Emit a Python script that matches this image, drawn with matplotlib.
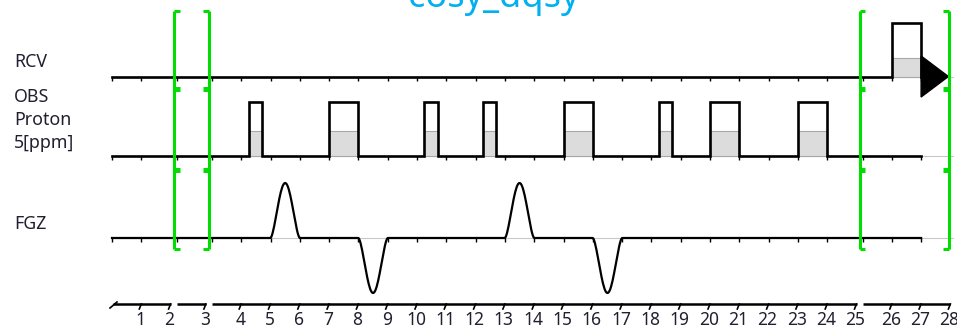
import numpy as np
import matplotlib.pyplot as plt
from matplotlib.patches import Polygon

plt.rcParams['font.family'] = ['Noto Sans', 'DejaVu Sans']

# ---- data (time in sequence units) ----
title = "cosy_dqsy"
rcv_label = ["RCV"]
obs_label = ["OBS", "Proton", "5[ppm]"]
fgz_label = ["FGZ"]

t_end = 28
chan_end = 27
breaks = [2, 3, 25]
tick_times = list(range(1, 29))

# OBS rf pulses
obs_start = [4.25, 7.0, 10.25, 12.25, 15.0, 18.25, 20.0, 23.0]
obs_stop = [4.7, 8.0, 10.7, 12.7, 16.0, 18.7, 21.0, 24.0]
obs_power = 0.46

# FGZ gradient pulses
grad_start = [5.0, 8.0, 13.0, 16.0]
grad_stop = [6.0, 9.0, 14.0, 17.0]
grad_amp = [1.0, -1.0, 1.0, -1.0]

# receiver gate and acquisition
rcv_start, rcv_stop = 26.0, 27.0
rcv_power = 0.35
acq_start, acq_stop = 27.0, 28.0

# ---- layout ----
X0, U = 112, 29.3          # pixel of t=0, pixels per unit
GAP = 6 / U                # break gap in units
PX = 1 / U                 # one pixel in x units
H = 54                     # pulse height in px
base = {"RCV": 76.5, "OBS": 156, "FGZ": 238}
axis_y = 304
GREEN = "#00dd00"
TXT = "#202030"


def tx(t, closed=True):
    t = np.asarray(t, dtype=float)
    if closed:
        k = sum((t >= b).astype(float) for b in breaks)
    else:
        k = sum((t > b).astype(float) for b in breaks)
    return t + GAP * k


fig = plt.figure(figsize=(9.57, 3.30), dpi=100)
ax = fig.add_axes([0, 0, 1, 1])
ax.set_xlim(-X0 / U, (957 - X0) / U)
ax.set_ylim(330, 0)
ax.axis('off')

# thin grey baselines
for name, y0 in base.items():
    ax.plot(tx([0, t_end]) + np.array([0, 3 * PX]), [y0, y0], color='#c8c8c8', lw=0.8, zorder=1)

# channel ticks
ch_ticks = tx(np.arange(0, chan_end + 1))
for name, y0 in base.items():
    ax.vlines(ch_ticks, y0, y0 + 4, color='k', lw=1.0, zorder=3)

# RCV
y0 = base["RCV"]
xs = [0, rcv_start, rcv_start, rcv_stop, rcv_stop]
ys = [0, 0, 1, 1, 0]
ax.fill_between(tx([rcv_start, rcv_stop]), y0, y0 - H * rcv_power,
                facecolor='#dcdcdc', edgecolor='#a8a8a8', lw=0.8, zorder=2)
ax.plot(tx(xs), y0 - H * np.array(ys), color='k', lw=1.9, zorder=3,
        solid_joinstyle='miter')
arrow = Polygon([[tx(acq_start), y0 - 0.38 * H], [tx(acq_start), y0 + 0.38 * H],
                 [tx(acq_stop) - 2 * PX, y0]], closed=True, color='k', zorder=4)
ax.add_patch(arrow)

# OBS
y0 = base["OBS"]
xs, ys = [0], [0]
for s, e in zip(obs_start, obs_stop):
    xs += [s, s, e, e]
    ys += [0, 1, 1, 0]
    ax.fill_between(tx([s, e]), y0, y0 - H * obs_power,
                    facecolor='#dcdcdc', edgecolor='#a8a8a8', lw=0.8, zorder=2)
xs.append(chan_end)
ys.append(0)
ax.plot(tx(xs), y0 - H * np.array(ys), color='k', lw=1.9, zorder=3,
        solid_joinstyle='miter')

# FGZ
y0 = base["FGZ"]
xs, ys = [np.array([0.0])], [np.array([0.0])]
for s, e, a in zip(grad_start, grad_stop, grad_amp):
    u = np.linspace(0, 1, 41)
    xs.append(s + (e - s) * u)
    ys.append(a * np.sin(np.pi * u) ** 1.6)
xs.append(np.array([chan_end]))
ys.append(np.array([0.0]))
xs = np.concatenate(xs)
ys = np.concatenate(ys)
ax.plot(tx(xs), y0 - 55 * ys, color='k', lw=1.6, zorder=3)

# channel labels
lx = -X0 / U + 14 * PX
for i, s in enumerate(rcv_label):
    ax.text(lx, 62 + 23 * i, s, fontsize=12.8, color=TXT, va='center', ha='left')
for i, s in enumerate(obs_label):
    ax.text(lx, 97 + 23 * i, s, fontsize=12.8, color=TXT, va='center', ha='left')
for i, s in enumerate(fgz_label):
    ax.text(lx, 224 + 23 * i, s, fontsize=12.8, color=TXT, va='center', ha='left')

# time axis with breaks
seg_edges = [0] + breaks + [t_end]
for i in range(len(seg_edges) - 1):
    a, b = seg_edges[i], seg_edges[i + 1]
    ax.plot([a + GAP * i + (PX if i == 0 else 0), b + GAP * i], [axis_y, axis_y],
            color='k', lw=1.8, solid_capstyle='butt')
ax.plot([tx(0) - 2 * PX, tx(0) + 5 * PX], [axis_y + 4, axis_y - 2], color='k', lw=1.2)
tick_x = tx(tick_times, closed=False)
for x, t in zip(tick_x, tick_times):
    ax.plot([x, x - 2 * PX], [axis_y, axis_y + 5], color='k', lw=1.2)
    ax.text(x - 1 * PX, 320, str(t), fontsize=12.5, color=TXT, ha='center', va='center')

# green brackets
br_x = [tx(2) - GAP / 2, tx(3) - GAP / 2, tx(25) - GAP / 2, tx(t_end) - PX]
br_dir = [1, -1, 1, -1]
for x, d in zip(br_x, br_dir):
    ax.vlines(x, 11, 249, color=GREEN, lw=2.2, zorder=5)
    for y in [11, 249]:
        ax.plot([x, x + d * 6 * PX], [y, y], color=GREEN, lw=2.2, zorder=5,
                solid_capstyle='butt')
    for y in [89, 170]:
        ax.plot([x, x + d * 6 * PX], [y, y], color=GREEN, lw=3.6, zorder=5,
                solid_capstyle='butt')

fig.text(494 / 957, 1 - 7 / 330, title, fontsize=26, color='#00b0f0',
         ha='center', va='baseline')

fig.savefig('out.png', dpi=100)
